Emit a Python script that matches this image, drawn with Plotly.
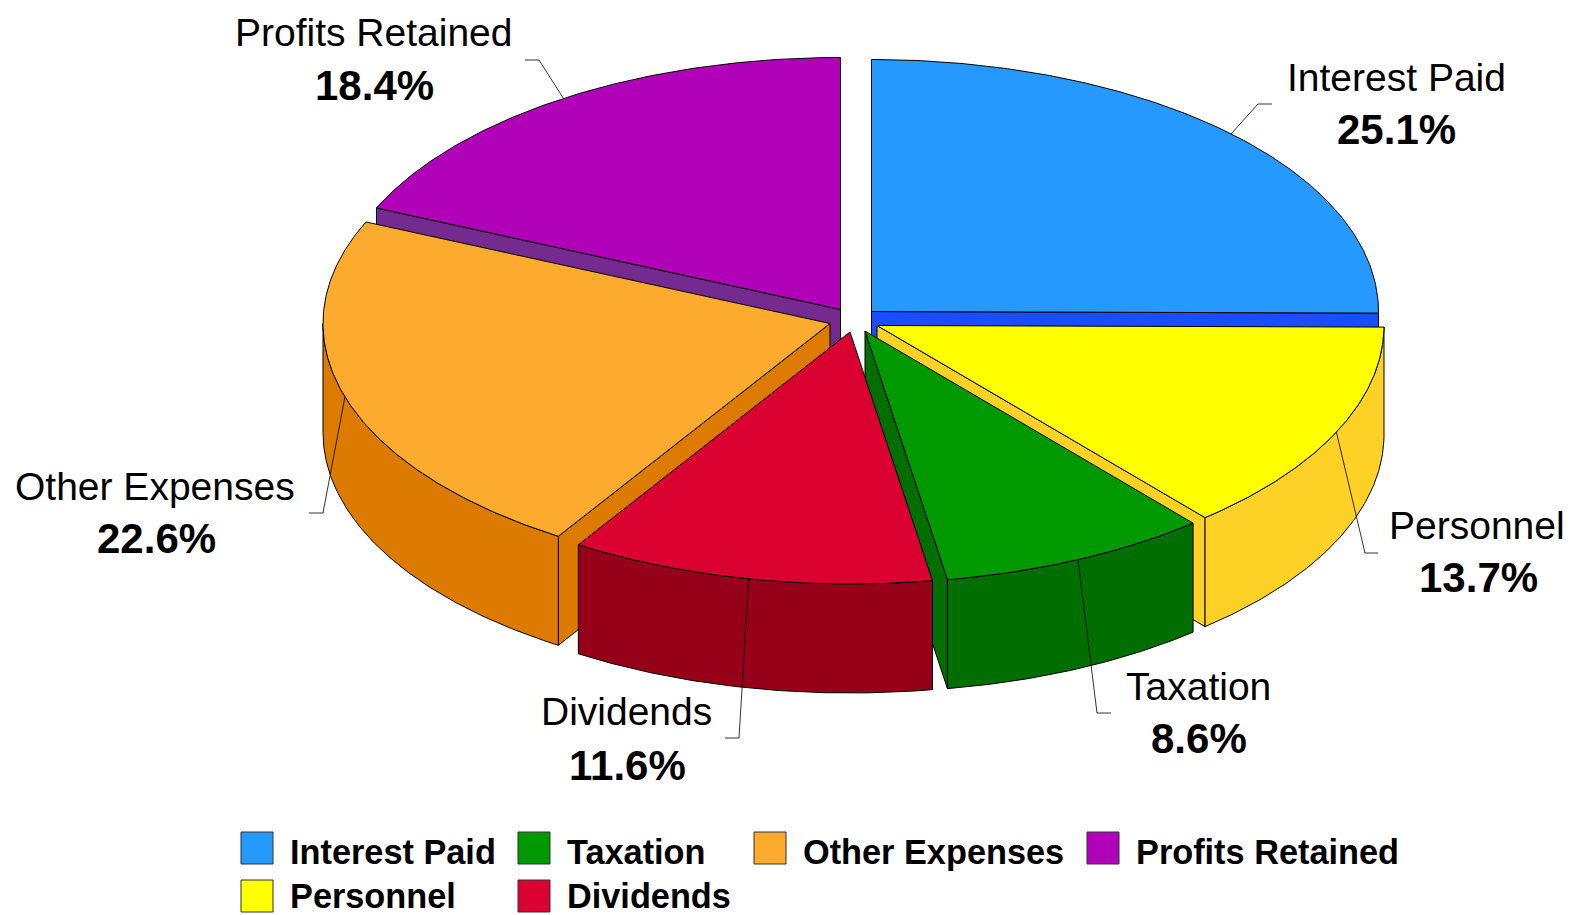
import math
import plotly.graph_objects as go

# ---------- data ----------
categories = ["Interest Paid", "Personnel", "Taxation", "Dividends", "Other Expenses", "Profits Retained"]
shares = [25.1, 13.7, 8.6, 11.6, 22.6, 18.4]
top_colors = ["#2699ff", "#ffff00", "#009900", "#da0030", "#fdab2e", "#b000b8"]
side_colors = ["#1a4dff", "#fdd126", "#006e00", "#960018", "#dd7a00", "#742a8f"]

# ---------- pseudo-3D geometry (canvas pixels) ----------
RX, RY, DEPTH = 507, 252, 109
apex_x = [871.5, 877, 865, 850, 830, 840.5]
apex_y = [311.5, 325.5, 331, 332, 323.5, 309.5]
label_x = [1396, 1477, 1198, 626, 155, 373]
label_y = [77, 525, 686, 711, 486, 32]
value_x = [1396, 1478, 1199, 627, 156, 374]
value_y = [129, 577, 738, 765, 538, 85]
elbow_x = [1258, 1365, 1097, 739, 323, 539]
elbow_y = [104, 553, 713, 738, 513, 60]
stub_x = [1272, 1378, 1111, 725, 309, 525]
legend_x = [257, 257, 534, 534, 770, 1103]
legend_y = [848, 896, 848, 896, 848, 848]
legend_text_y = [852, 896, 852, 896, 852, 852]
draw_order = [0, 5, 4, 1, 2, 3]

starts, ends = [], []
cum = 0.0
for s in shares:
    starts.append(cum * 3.6)
    cum += s
    ends.append(cum * 3.6)


def rim(i, deg, dz=0.0):
    a = math.radians(deg)
    return apex_x[i] + RX * math.sin(a), apex_y[i] - RY * math.cos(a) + dz


def arc(i, d0, d1, dz=0.0):
    n = max(2, int(abs(d1 - d0) * 2))
    return [rim(i, d0 + (d1 - d0) * k / n, dz) for k in range(n + 1)]


fig = go.Figure()


def poly(pts, color, name):
    xs = [p[0] for p in pts] + [pts[0][0]]
    ys = [p[1] for p in pts] + [pts[0][1]]
    fig.add_trace(go.Scatter(x=xs, y=ys, mode="lines", fill="toself", fillcolor=color,
                             line=dict(color="#000000", width=1), name=name,
                             hoverinfo="skip", showlegend=False))


for i in draw_order:
    a0, a1 = starts[i], ends[i]
    apex = (apex_x[i], apex_y[i])
    apex_d = (apex_x[i], apex_y[i] + DEPTH)
    # radial wall that faces the viewer
    if 0 < a1 % 360 < 180:
        poly([apex, rim(i, a1), rim(i, a1, DEPTH), apex_d], side_colors[i], categories[i] + " side")
    if a0 > 180:
        poly([apex, rim(i, a0), rim(i, a0, DEPTH), apex_d], side_colors[i], categories[i] + " side")
    # outer curved wall, front half only
    f0, f1 = max(a0, 90), min(a1, 270)
    if f1 > f0:
        poly(arc(i, f0, f1) + arc(i, f1, f0, DEPTH), side_colors[i], categories[i] + " rim")
    # top face
    poly([apex] + arc(i, a0, a1), top_colors[i], categories[i])

# leader lines
for i in range(len(categories)):
    mid = (starts[i] + ends[i]) / 2
    sx, sy = rim(i, mid)
    fig.add_trace(go.Scatter(x=[sx, elbow_x[i], stub_x[i]], y=[sy, elbow_y[i], elbow_y[i]],
                             mode="lines", line=dict(color="#000000", width=0.8),
                             hoverinfo="skip", showlegend=False))

# data labels
FONT = "Liberation Sans, Arial, sans-serif"
for i, c in enumerate(categories):
    fig.add_annotation(x=label_x[i], y=label_y[i], text=c, showarrow=False, xanchor="center", yanchor="middle",
                       font=dict(family=FONT, size=39, color="#000000"))
    fig.add_annotation(x=value_x[i], y=value_y[i], text=f"<b>{shares[i]:.1f}%</b>", showarrow=False,
                       xanchor="center", yanchor="middle", font=dict(family=FONT, size=42, color="#000000"))

# legend
fig.add_trace(go.Scatter(x=legend_x, y=legend_y, mode="markers",
                         marker=dict(symbol="square", size=32, color=top_colors,
                                     line=dict(color="#333333", width=1)),
                         hoverinfo="skip", showlegend=False))
for i, c in enumerate(categories):
    fig.add_annotation(x=legend_x[i] + 31, y=legend_text_y[i], text=f"<b>{c}</b>", showarrow=False, xanchor="left",
                       yanchor="middle", font=dict(family=FONT, size=34.3, color="#000000"))

fig.update_layout(
    width=1570, height=915, margin=dict(l=0, r=0, t=0, b=0),
    paper_bgcolor="#ffffff", plot_bgcolor="#ffffff",
    xaxis=dict(range=[0, 1570], visible=False, fixedrange=True),
    yaxis=dict(range=[915, 0], visible=False, fixedrange=True),
    showlegend=False,
)
fig.write_html("out.html", config={"displayModeBar": False},
               post_script="document.body.style.margin='0';document.body.style.overflow='hidden';")
